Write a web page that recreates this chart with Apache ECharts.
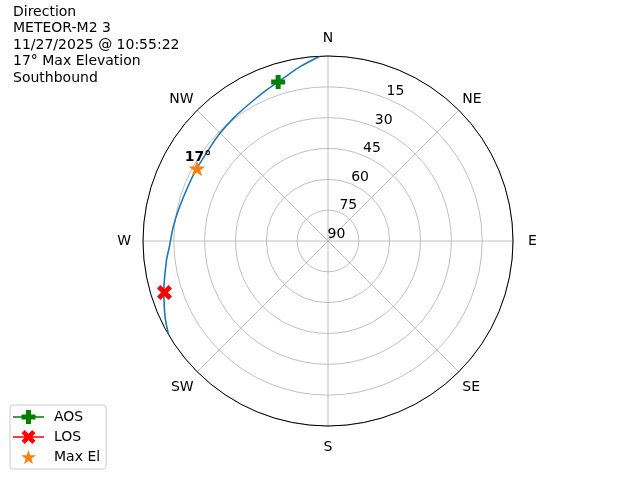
<!DOCTYPE html>
<html>
<head>
<meta charset="utf-8">
<script src="https://cdn.jsdelivr.net/npm/echarts@6/dist/echarts.min.js"></script>
<style>html,body{margin:0;padding:0;background:#fff}#c{width:640px;height:480px}</style>
</head>
<body>
<div id="c"></div>
<script>
// Pass track (azimuth deg, elevation deg)
var trackAz = [357.5, 350.9, 344.6, 337.9, 330.5, 322.3, 314.9, 309.0, 298.4, 289.8, 281.7, 275.3, 267.4, 263.3, 253.4, 245.1, 239.5];
var trackEl = [0, 4.1, 7.9, 10.7, 13.0, 14.6, 15.8, 16.7, 17.1, 16.8, 15.7, 14.4, 12.6, 10.9, 6.7, 2.6, 0];
var aosPoint = [342.6, 8.9];
var losPoint = [252.5, 6.6];
var maxElPoint = [299.0, 17.1];
var maxElLabel = '17°';
var directions = ['N', 'NE', 'E', 'SE', 'S', 'SW', 'W', 'NW'];
var radialTicks = [15, 30, 45, 60, 75, 90];
var titleLines = ['Direction', 'METEOR-M2 3', '11/27/2025 @ 10:55:22', '17° Max Elevation', 'Southbound'];

var FONT = 'DejaVu Sans';
var plusPath = 'path://M4.5 0H9.5V4.5H14V9.5H9.5V14H4.5V9.5H0V4.5H4.5Z';
var xPath = 'path://M0 3.2L3.2 0L7 3.8L10.8 0L14 3.2L10.2 7L14 10.8L10.8 14L7 10.2L3.2 14L0 10.8L3.8 7Z';
var starPath = 'path://M10 0L7.755 6.91L0.489 6.91L6.367 11.18L4.122 18.09L10 13.82L15.878 18.09L13.633 11.18L19.511 6.91L12.245 6.91Z';
var tiny = 'M0 7h0.01v0.01zM36 7h0.01v0.01z';
var legLine = 'M0 6.25H31V7.75H0Z';
var legAOS = 'path://' + tiny + legLine + 'M13 0H18V4.5H22.5V9.5H18V14H13V9.5H8.5V4.5H13Z';
var legLOS = 'path://' + tiny + legLine + 'M8.5 3.2L11.7 0L15.5 3.8L19.3 0L22.5 3.2L18.7 7L22.5 10.8L19.3 14L15.5 10.2L11.7 14L8.5 10.8L12.3 7Z';
var legStar = 'path://' + tiny + 'M15.5 0L13.76 5.35L8.14 5.35L12.69 8.65L10.95 14L15.5 10.7L20.05 14L18.31 8.65L22.86 5.35L17.24 5.35Z';
var dirStyle = ['n', 'd', 'e', 'ds', 's', 'ds', 'w', 'd'];

var track = trackAz.map(function (a, i) { return [trackEl[i], a]; });

var chart = echarts.init(document.getElementById('c'), null, {renderer: 'canvas'});
chart.setOption({
  animation: false,
  textStyle: {fontFamily: FONT},
  title: {
    text: titleLines.join('\n'),
    left: 13, top: 4, padding: 0,
    textStyle: {fontFamily: FONT, fontSize: 14, fontWeight: 'normal', color: '#000', lineHeight: 16.5}
  },
  legend: {
    orient: 'vertical',
    left: 10, top: 405,
    padding: [5, 6, 5, 3],
    itemWidth: 36, itemHeight: 14, itemGap: 6,
    borderColor: '#cccccc', borderWidth: 1, borderRadius: 3,
    textStyle: {fontFamily: FONT, fontSize: 14, color: '#000'},
    data: [
      {name: 'AOS', icon: legAOS},
      {name: 'LOS', icon: legLOS},
      {name: 'Max El', icon: legStar}
    ]
  },
  polar: {center: [328, 241], radius: 185},
  angleAxis: {
    type: 'value', min: 0, max: 360, interval: 45,
    startAngle: 90, clockwise: true,
    axisLine: {lineStyle: {color: '#000', width: 1}},
    axisTick: {show: false},
    axisLabel: {
      margin: 5, fontSize: 14, color: '#000', fontFamily: FONT,
      formatter: function (v) {
        if (v >= 360) return '';
        var k = Math.round(v / 45);
        return '{' + dirStyle[k] + '|' + directions[k] + '}';
      },
      rich: {
        n: {fontSize: 14, color: '#000', fontFamily: FONT, padding: [0, 0, 6, 0]},
        e: {fontSize: 14, color: '#000', fontFamily: FONT, padding: [0, 0, 0, 10]},
        s: {fontSize: 14, color: '#000', fontFamily: FONT, padding: [9, 0, 0, 0]},
        w: {fontSize: 14, color: '#000', fontFamily: FONT, padding: [0, 7, 0, 0]},
        d: {fontSize: 14, color: '#000', fontFamily: FONT},
        ds: {fontSize: 14, color: '#000', fontFamily: FONT, padding: [5, 0, 0, 0]}
      }
    },
    splitLine: {lineStyle: {color: '#b0b0b0', width: 0.8}}
  },
  radiusAxis: {
    type: 'value', min: 0, max: 90, interval: 15, inverse: true,
    axisLine: {show: false}, axisTick: {show: false}, axisLabel: {show: false},
    splitLine: {lineStyle: {color: '#b0b0b0', width: 0.8}}
  },
  series: [
    {
      name: 'rticks', type: 'scatter', coordinateSystem: 'polar', silent: true,
      symbolSize: 1, itemStyle: {color: 'rgba(0,0,0,0)', opacity: 1},
      data: radialTicks.map(function (t) { return [t, 22.5]; }),
      label: {show: true, position: 'inside', offset: [8.5, -7], color: '#000', opacity: 1, fontSize: 14, fontFamily: FONT,
        formatter: function (p) { return String(p.value[0]); }},
      z: 1
    },
    {
      name: 'track', type: 'line', coordinateSystem: 'polar', data: track,
      smooth: 0.3, showSymbol: false, symbol: 'none', clip: true,
      lineStyle: {color: '#1f77b4', width: 1.6}, z: 2
    },
    {
      name: 'AOS', type: 'scatter', coordinateSystem: 'polar',
      symbol: plusPath, symbolSize: 14, itemStyle: {color: '#008000', opacity: 1},
      data: [[aosPoint[1], aosPoint[0]]], z: 3
    },
    {
      name: 'LOS', type: 'scatter', coordinateSystem: 'polar',
      symbol: xPath, symbolSize: 15, itemStyle: {color: '#ff0000', opacity: 1},
      data: [[losPoint[1], losPoint[0]]], z: 3
    },
    {
      name: 'Max El', type: 'scatter', coordinateSystem: 'polar',
      symbol: starPath, symbolSize: [17, 16], itemStyle: {color: '#ff7f0e', opacity: 1},
      data: [[maxElPoint[1], maxElPoint[0]]],
      label: {show: true, position: 'inside', offset: [1, -11], formatter: maxElLabel,
        color: '#000', fontWeight: 'bold', fontSize: 14, fontFamily: FONT},
      z: 3
    }
  ]
});
</script>
</body>
</html>
